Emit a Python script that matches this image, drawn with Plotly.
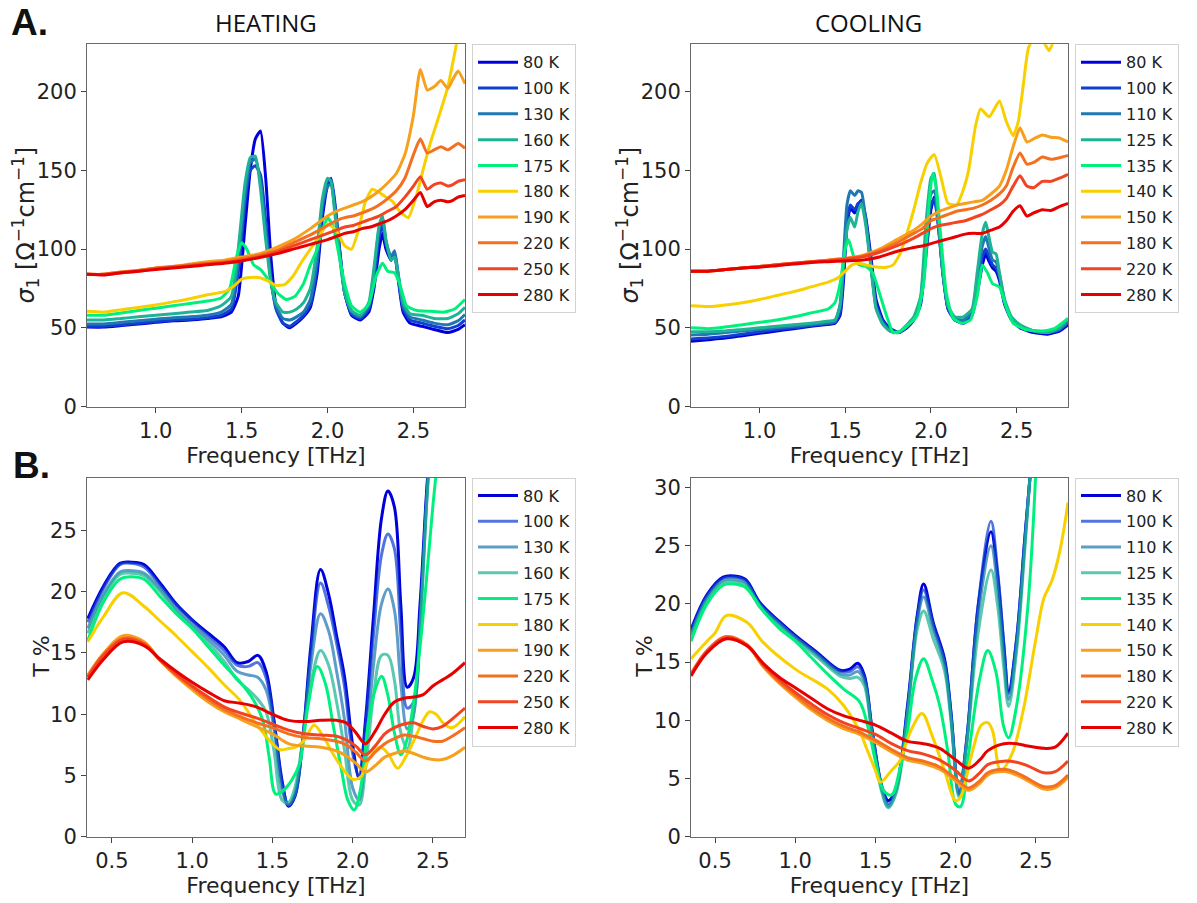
import plotly.graph_objects as go

W, H = 1197, 903

# ---------------- labels & colours ----------------
HEAT_LABELS = ["80 K", "100 K", "130 K", "160 K", "175 K", "180 K", "190 K", "220 K", "250 K", "280 K"]
COOL_LABELS = ["80 K", "100 K", "110 K", "125 K", "135 K", "140 K", "150 K", "180 K", "220 K", "280 K"]
COLORS = ["#0000dc", "#1040d2", "#1f78b4", "#1db394", "#00f07e",
          "#f8d000", "#f6a01e", "#f47020", "#f24420", "#e60000"]

# ---------------- sigma_1, heating ----------------
F_SH_LOW = [0.6, 0.7, 0.8, 0.9, 1.0, 1.1, 1.2, 1.3, 1.38, 1.44, 1.48, 1.52, 1.55, 1.58, 1.61,
            1.64, 1.67, 1.70, 1.74, 1.78, 1.82, 1.86, 1.90, 1.94, 1.97, 2.00, 2.02, 2.04, 2.07, 2.10,
            2.14, 2.19, 2.24, 2.27, 2.30, 2.32, 2.34, 2.37, 2.39, 2.41, 2.44, 2.48, 2.55, 2.62, 2.70,
            2.76, 2.80]
S_H_80 = [50.5, 50.5, 51.5, 52.5, 53.5, 54.5, 55, 56, 57, 60, 70, 115, 150, 170, 175,
          145, 95, 64, 53, 50, 53, 57, 63, 85, 120, 140, 143, 130, 100, 72,
          58, 55, 60, 75, 100, 110, 100, 93, 97, 82, 60, 53, 51, 49, 47, 49, 52]
S_H_100 = [51, 51, 52, 53, 54, 55, 55.5, 56.5, 58, 62, 85, 130, 150, 153, 147,
           118, 82, 62, 53, 51, 54, 58, 65, 90, 125, 142, 145, 132, 100, 72,
           59, 56, 62, 80, 108, 115, 103, 93, 98, 84, 62, 55, 53, 51, 49.5, 51.5, 55]
S_H_130 = [52.5, 52.5, 53.5, 54.5, 55.5, 56.5, 57, 58, 60, 65, 92, 135, 155, 157, 143,
           112, 80, 64, 56, 55, 57, 60, 68, 95, 128, 140, 141, 128, 98, 72,
           60, 57, 64, 85, 113, 120, 105, 95, 99, 85, 64, 57, 55, 53, 52, 54.5, 58.5]
S_H_160 = [55, 55, 56, 57, 58, 59, 60, 61, 64, 70, 100, 142, 158, 159, 138,
           106, 79, 66, 60, 60, 62, 66, 75, 102, 132, 145, 143, 125, 95, 72,
           61, 58, 66, 88, 115, 121, 106, 93, 95, 85, 66, 59, 58, 56, 56, 59, 63]
F_SH_175 = [0.6, 0.7, 0.8, 0.9, 1.0, 1.1, 1.2, 1.3, 1.38, 1.43, 1.47, 1.50, 1.53, 1.57, 1.61,
            1.66, 1.71, 1.76, 1.81, 1.86, 1.90, 1.94, 1.97, 2.00, 2.03, 2.06, 2.10, 2.14, 2.19, 2.24,
            2.28, 2.32, 2.35, 2.39, 2.42, 2.46, 2.52, 2.60, 2.68, 2.74, 2.80]
S_H_175 = [58, 58, 59.5, 61, 62.5, 64, 65.5, 67, 69, 75, 95, 104, 100, 90, 87,
           80, 72, 68, 70, 78, 90, 100, 112, 120, 115, 100, 78, 64, 60, 65,
           82, 91, 86, 85, 78, 64, 61, 60.5, 60, 62, 68]
F_SH_180 = [0.6, 0.7, 0.8, 0.9, 1.0, 1.1, 1.2, 1.3, 1.4, 1.46, 1.5, 1.55, 1.6, 1.65, 1.7,
            1.75, 1.8, 1.85, 1.9, 1.95, 2.0, 2.05, 2.1, 2.14, 2.18, 2.22, 2.26, 2.3, 2.34, 2.38,
            2.42, 2.47, 2.52, 2.56, 2.6, 2.65, 2.7, 2.75, 2.8]
S_H_180 = [60.5, 60, 61.5, 63, 64.5, 66.5, 68.5, 71, 73, 77, 81, 82, 82, 80, 77,
           77.5, 83, 92, 100, 108, 116, 112, 102, 100, 112, 130, 138, 136, 133, 130,
           124, 120, 135, 152, 168, 185, 203, 230, 255]
F_SH_HIGH = [0.6, 0.7, 0.8, 0.9, 1.0, 1.1, 1.2, 1.3, 1.4, 1.5, 1.6, 1.7, 1.8, 1.9, 2.0,
             2.05, 2.1, 2.15, 2.2, 2.25, 2.3, 2.35, 2.4, 2.45, 2.5, 2.54, 2.58, 2.62, 2.66, 2.70,
             2.73, 2.76, 2.80]
S_H_190 = [84, 84, 85.5, 86.5, 88, 89, 90.5, 92, 93, 95, 97, 101, 106, 113, 121,
           124, 126, 128, 130, 133, 137, 142, 148, 160, 185, 214, 201, 203, 207, 202, 208, 213, 205]
S_H_220 = [84, 84, 85.5, 86.5, 88, 89, 90, 91, 92, 94, 96, 99, 104, 109, 115,
           118, 120, 121, 123, 125, 128, 132, 137, 145, 160, 170, 161, 163, 165, 163, 165, 167, 164]
S_H_250 = [84, 84, 85, 86, 87.5, 88.5, 89.5, 90.5, 91.5, 93, 95, 98, 102, 106, 110,
           112, 114, 115, 117, 119, 121, 124, 127, 133, 140, 146, 138, 141, 142, 140, 141, 143, 144]
S_H_280 = [84, 83.5, 85, 86, 87, 88, 89, 90, 91, 92.5, 94.5, 97, 100, 103, 106,
           108, 110, 111, 113, 114, 116, 118, 121, 125, 131, 136, 127, 130, 131, 130, 131, 133, 134]

# ---------------- sigma_1, cooling ----------------
F_SC_LOW = [0.6, 0.7, 0.8, 0.9, 1.0, 1.1, 1.2, 1.3, 1.38, 1.44, 1.47, 1.49, 1.51, 1.53, 1.555,
            1.575, 1.595, 1.62, 1.65, 1.68, 1.72, 1.76, 1.81, 1.86, 1.90, 1.94, 1.97, 2.00, 2.02, 2.04,
            2.07, 2.10, 2.14, 2.19, 2.24, 2.27, 2.30, 2.32, 2.34, 2.36, 2.38, 2.40, 2.43, 2.47, 2.52,
            2.60, 2.68, 2.75, 2.80]
S_C_80 = [41.5, 42.5, 43.5, 45, 46.5, 48, 49.5, 51, 52, 53, 58, 80, 115, 126, 123,
          128, 131, 120, 95, 68, 55, 50, 47, 50, 55, 65, 95, 125, 133, 120,
          85, 62, 55, 53, 58, 72, 90, 97, 92, 88, 86, 80, 65, 55, 50, 47, 46, 48, 52]
S_C_100 = [43, 43.5, 44.5, 46, 47.5, 49, 50, 51.5, 52.5, 53.5, 60, 85, 118, 128, 125,
           129, 130, 118, 90, 65, 54, 49, 47, 51, 56, 67, 100, 128, 132, 118,
           84, 62, 55, 54, 59, 76, 95, 100, 95, 90, 88, 82, 66, 56, 51, 48, 47, 49, 53]
S_C_110 = [45.5, 46, 47, 48, 49, 50, 51, 52, 53, 54, 65, 95, 128, 137, 134,
           137, 136, 118, 90, 63, 53, 48, 47, 51, 56, 68, 105, 135, 137, 120,
           85, 63, 56, 55, 60, 80, 102, 108, 100, 93, 92, 84, 67, 56, 51, 48, 47, 49, 54]
S_C_125 = [47.5, 47.5, 48, 49, 50, 51, 52, 53, 54, 55, 64, 90, 112, 120, 114,
           124, 129, 115, 88, 62, 52, 48, 47, 52, 57, 70, 115, 145, 148, 125,
           86, 64, 57, 57, 62, 85, 110, 117, 107, 98, 97, 85, 68, 57, 52, 48, 47, 50, 56]
F_SC_135 = [0.6, 0.7, 0.8, 0.9, 1.0, 1.1, 1.2, 1.3, 1.4, 1.44, 1.47, 1.50, 1.52, 1.55, 1.58,
            1.62, 1.66, 1.70, 1.74, 1.78, 1.82, 1.87, 1.92, 1.96, 1.99, 2.01, 2.03, 2.06, 2.09, 2.13,
            2.18, 2.23, 2.27, 2.30, 2.33, 2.36, 2.40, 2.44, 2.48, 2.55, 2.65, 2.72, 2.80]
S_C_135 = [50, 49.5, 50.5, 52, 53.5, 55, 57, 59.5, 62, 66, 78, 100, 106, 95, 90,
           89, 85, 72, 58, 47, 48, 52, 58, 80, 130, 148, 140, 105, 72, 56,
           53, 55, 70, 90, 85, 78, 76, 63, 53, 49, 48, 49.5, 56]
F_SC_140 = [0.6, 0.7, 0.8, 0.9, 1.0, 1.1, 1.2, 1.3, 1.4, 1.46, 1.5, 1.54, 1.58, 1.62, 1.66,
            1.7, 1.74, 1.78, 1.82, 1.86, 1.9, 1.94, 1.98, 2.02, 2.06, 2.1, 2.15, 2.19, 2.22, 2.26,
            2.29, 2.34, 2.40, 2.44, 2.48, 2.51, 2.54, 2.57, 2.62, 2.66, 2.69, 2.73, 2.8]
S_C_140 = [64, 63.5, 64.5, 66, 68, 70.5, 73, 76, 79, 82, 86, 90, 91, 90, 89,
           88.5, 88.5, 90, 97, 110, 125, 142, 155, 160, 145, 129, 128, 138, 150, 178,
           189, 184, 194, 181, 172, 181, 205, 228, 236, 231, 226, 236, 255]
F_SC_HIGH = [0.6, 0.7, 0.8, 0.9, 1.0, 1.1, 1.2, 1.3, 1.4, 1.5, 1.6, 1.7, 1.8, 1.9, 1.95,
             2.0, 2.05, 2.1, 2.15, 2.2, 2.25, 2.3, 2.35, 2.4, 2.44, 2.48, 2.52, 2.56, 2.6, 2.65,
             2.7, 2.75, 2.8]
S_C_150 = [86, 86, 87, 88, 89, 90, 91, 92, 93, 94, 96, 100, 106, 112, 116,
           121, 124, 126, 128, 129, 130, 131, 135, 140, 150, 165, 177, 168, 170, 172.5, 171, 170.5, 168]
S_C_180 = [86, 86, 87, 88, 89, 90, 91, 92, 93, 94, 95.5, 99, 104, 110, 113,
           118, 120, 122, 124, 125, 126, 128, 131, 135, 140, 152, 161, 154, 155, 158.5, 157, 158, 159.5]
S_C_220 = [86, 86, 87, 88, 89, 90, 91, 92, 92.5, 93.5, 95, 98, 102, 107, 110,
           113, 115, 116, 117, 118, 120, 122, 125, 128, 132, 140, 146.5, 140, 139, 143, 143, 145, 147.5]
S_C_280 = [86, 86, 87, 88, 88.5, 89.5, 90.5, 91.5, 92, 92.5, 93, 95, 98.5, 101, 102,
           103.5, 105, 106.5, 108, 109.5, 110, 110, 112, 114, 118, 124, 127.5, 121, 123, 125, 124.5, 127, 129]

# ---------------- transmission, heating ----------------
F_TH_LOW = [0.35, 0.45, 0.55, 0.62, 0.7, 0.8, 0.9, 1.0, 1.1, 1.2, 1.28, 1.35, 1.41, 1.46, 1.51,
            1.56, 1.60, 1.64, 1.69, 1.74, 1.80, 1.85, 1.90, 1.95, 2.00, 2.04, 2.08, 2.13, 2.18, 2.22,
            2.26, 2.30, 2.34, 2.38, 2.42, 2.46, 2.50]
T_H_80 = [17.8, 20.5, 22.3, 22.4, 22.2, 20.7, 19.0, 17.7, 16.6, 15.5, 14.2, 14.3, 14.8, 13.5, 9.5,
          4.6, 2.5, 3.3, 8.1, 15.6, 21.8, 19.8, 16.4, 13.0, 7.5, 4.8, 9.5, 18.0, 26.0, 28.2,
          26.9, 18.9, 12.2, 13.0, 19.0, 28.0, 35]
T_H_100 = [17.5, 20.3, 22.2, 22.3, 22.0, 20.5, 18.9, 17.6, 16.4, 15.2, 14.0, 13.9, 14.2, 13.0, 9.3,
           4.4, 2.6, 3.3, 8.0, 15.0, 20.7, 18.8, 15.8, 12.2, 6.8, 5.0, 9.0, 16.5, 23.0, 24.7,
           23.5, 16.5, 10.5, 11.0, 18.0, 27.5, 35]
T_H_130 = [17.0, 19.8, 21.6, 21.7, 21.5, 20.2, 18.6, 17.3, 16.1, 14.8, 13.5, 13.2, 13.0, 12.0, 8.8,
           3.8, 2.6, 3.5, 8.0, 14.0, 18.2, 16.8, 13.5, 9.5, 4.0, 3.0, 7.0, 14.0, 19.0, 20.2,
           18.5, 12.5, 8.8, 10.0, 17.0, 27.0, 35]
T_H_160 = [16.6, 19.6, 21.4, 21.5, 21.3, 20.0, 18.4, 17.1, 15.8, 14.3, 12.8, 12.0, 11.2, 10.2, 7.0,
           3.0, 2.8, 4.0, 8.0, 12.5, 15.2, 14.0, 11.0, 7.0, 3.0, 2.6, 5.5, 11.5, 14.8, 14.8,
           12.8, 8.5, 7.2, 10.0, 17.0, 27.0, 35]
F_TH_175 = [0.35, 0.45, 0.55, 0.62, 0.7, 0.8, 0.9, 1.0, 1.1, 1.2, 1.3, 1.38, 1.44, 1.48, 1.52,
            1.56, 1.62, 1.67, 1.72, 1.78, 1.83, 1.88, 1.93, 1.97, 2.01, 2.05, 2.10, 2.14, 2.18, 2.22,
            2.26, 2.30, 2.34, 2.38, 2.42, 2.46, 2.50, 2.54]
T_H_175 = [16.0, 19.2, 21.0, 21.2, 21.0, 19.6, 18.2, 17.0, 15.5, 14.0, 12.6, 11.2, 9.5, 6.5, 3.5,
           3.7, 4.6, 6.0, 10.5, 13.9, 12.5, 9.0, 5.5, 3.0, 2.2, 4.0, 9.5, 12.0, 13.1, 11.5,
           8.5, 6.7, 8.0, 11.0, 15.5, 21.0, 27.0, 32.0]
F_TH_180 = [0.35, 0.45, 0.57, 0.7, 0.8, 0.9, 1.0, 1.1, 1.2, 1.3, 1.4, 1.5, 1.55, 1.6, 1.65,
            1.7, 1.76, 1.82, 1.9, 2.0, 2.05, 2.1, 2.17, 2.22, 2.28, 2.33, 2.4, 2.44, 2.48, 2.52,
            2.57, 2.62, 2.7]
T_H_180 = [15.9, 18.0, 19.9, 18.8, 17.6, 16.4, 15.1, 13.8, 12.4, 11.1, 9.2, 7.6, 7.1, 7.2, 7.35,
           7.9, 9.1, 8.1, 6.3, 4.7, 4.9, 6.3, 7.3, 6.8, 5.6, 6.5, 8.4, 9.5, 10.2, 10.0,
           9.2, 8.9, 9.8]
F_TH_HIGH = [0.35, 0.45, 0.57, 0.7, 0.8, 0.9, 1.0, 1.1, 1.2, 1.3, 1.4, 1.5, 1.6, 1.7, 1.8,
             1.9, 1.96, 2.02, 2.08, 2.14, 2.2, 2.26, 2.32, 2.38, 2.44, 2.5, 2.56, 2.62, 2.7]
T_H_190 = [13.2, 15.0, 16.4, 15.9, 14.4, 13.1, 12.0, 11.0, 10.2, 9.6, 9.0, 8.4, 7.6, 7.4, 7.3,
           7.0, 6.6, 6.0, 5.3, 5.8, 6.5, 6.8, 7.0, 6.8, 6.5, 6.3, 6.3, 6.6, 7.3]
T_H_220 = [13.1, 14.9, 16.2, 15.8, 14.4, 13.2, 12.2, 11.2, 10.4, 9.8, 9.3, 8.9, 8.4, 8.1, 8.0,
           7.8, 7.5, 6.9, 6.2, 6.9, 7.6, 8.0, 8.3, 8.2, 8.0, 7.8, 7.8, 8.2, 8.9]
T_H_250 = [13.0, 14.8, 16.1, 15.7, 14.4, 13.3, 12.3, 11.4, 10.6, 10.1, 9.7, 9.2, 8.7, 8.4, 8.3,
           8.2, 7.9, 7.4, 6.7, 7.4, 8.4, 8.9, 9.2, 9.3, 9.0, 8.8, 9.0, 9.6, 10.5]
T_H_280 = [12.8, 14.5, 15.9, 15.6, 14.5, 13.5, 12.6, 11.8, 11.1, 10.9, 10.6, 10.0, 9.5, 9.4, 9.5,
           9.5, 9.3, 8.5, 7.6, 8.6, 10.0, 11.0, 11.3, 11.4, 11.6, 12.3, 12.8, 13.3, 14.2]

# ---------------- transmission, cooling ----------------
F_TC_LOW = [0.35, 0.45, 0.55, 0.62, 0.69, 0.78, 0.9, 1.0, 1.13, 1.28, 1.34, 1.39, 1.43, 1.48, 1.54,
            1.58, 1.63, 1.70, 1.76, 1.80, 1.86, 1.93, 1.97, 2.02, 2.07, 2.14, 2.22, 2.26, 2.30, 2.33,
            2.38, 2.43, 2.47, 2.5]
T_C_80 = [17.8, 20.8, 22.3, 22.4, 22.1, 20.1, 18.5, 17.3, 15.9, 14.3, 14.4, 14.9, 13.9, 9.1, 4.3,
          3.1, 4.3, 11.3, 19.0, 21.7, 18.4, 15.3, 10.8, 3.7, 8.5, 19.8, 26.2, 22.6, 16.4, 12.5,
          17.0, 25.5, 32, 36]
T_C_100 = [17.6, 20.7, 22.2, 22.3, 22.0, 20.0, 18.4, 17.2, 15.8, 14.2, 14.2, 14.6, 13.7, 9.0, 4.2,
           2.8, 4.2, 11.0, 18.8, 21.2, 18.2, 15.1, 10.6, 3.8, 8.5, 19.9, 27.1, 23.0, 16.6, 12.3,
           17.0, 25.5, 32, 36]
T_C_110 = [17.4, 20.5, 22.0, 22.1, 21.8, 19.9, 18.3, 17.1, 15.7, 14.0, 13.9, 14.2, 13.4, 8.8, 4.0,
           2.6, 4.0, 10.8, 18.5, 20.6, 17.8, 14.8, 10.4, 3.6, 8.3, 19.0, 25.0, 21.5, 15.5, 11.8,
           16.5, 25.0, 32, 36]
T_C_125 = [17.2, 20.3, 21.8, 21.9, 21.6, 19.7, 18.1, 16.9, 15.5, 13.8, 13.6, 13.7, 13.0, 8.5, 3.8,
           2.5, 3.8, 10.5, 17.8, 19.4, 17.0, 14.3, 10.0, 3.4, 8.0, 17.5, 22.9, 20.0, 14.5, 11.2,
           16.0, 24.5, 32, 36]
F_TC_135 = [0.35, 0.45, 0.55, 0.62, 0.69, 0.8, 0.9, 1.0, 1.1, 1.2, 1.3, 1.4, 1.45, 1.5, 1.55,
            1.6, 1.65, 1.7, 1.75, 1.8, 1.85, 1.9, 1.95, 2.0, 2.03, 2.08, 2.15, 2.2, 2.25, 2.3,
            2.33, 2.38, 2.45, 2.5]
T_C_135 = [16.8, 20.0, 21.6, 21.7, 21.4, 19.4, 17.9, 16.8, 15.4, 14.0, 12.7, 11.6, 9.6, 6.5, 4.0,
           3.6, 5.7, 9.1, 13.6, 15.3, 13.6, 11.3, 7.4, 2.8, 2.6, 7.1, 13.6, 16.0, 14.2, 9.4,
           8.5, 11.3, 19.8, 31.5]
F_TC_140 = [0.35, 0.45, 0.5, 0.57, 0.7, 0.8, 1.0, 1.2, 1.3, 1.4, 1.45, 1.5, 1.53, 1.6, 1.65,
            1.72, 1.79, 1.85, 1.93, 2.0, 2.03, 2.1, 2.16, 2.2, 2.23, 2.28, 2.35, 2.42, 2.5, 2.55,
            2.6, 2.65, 2.7]
T_C_140 = [15.3, 16.8, 17.5, 19.0, 18.4, 16.7, 14.4, 12.7, 11.3, 9.1, 7.4, 5.7, 4.7, 5.7, 6.5,
           9.1, 10.6, 8.8, 5.7, 3.1, 3.4, 7.1, 9.6, 9.8, 9.1, 5.7, 7.1, 10.8, 17.0, 20.5,
           22.0, 24.6, 28.7]
F_TC_HIGH = [0.35, 0.45, 0.57, 0.7, 0.8, 0.9, 1.0, 1.1, 1.2, 1.3, 1.4, 1.5, 1.6, 1.7, 1.8,
             1.9, 2.0, 2.08, 2.15, 2.2, 2.3, 2.38, 2.45, 2.55, 2.62, 2.7]
T_C_150 = [13.9, 15.9, 17.1, 16.4, 14.6, 13.2, 12.0, 10.9, 10.0, 9.3, 8.8, 8.1, 7.3, 6.6, 6.3,
           5.8, 4.8, 4.0, 4.6, 5.3, 5.6, 5.3, 4.8, 4.1, 4.2, 5.1]
T_C_180 = [14.0, 16.0, 17.2, 16.5, 14.7, 13.3, 12.2, 11.1, 10.2, 9.5, 9.0, 8.3, 7.5, 6.8, 6.5,
           6.0, 5.0, 4.2, 4.8, 5.5, 5.8, 5.5, 5.0, 4.3, 4.4, 5.3]
T_C_220 = [13.9, 15.9, 17.1, 16.4, 14.8, 13.5, 12.4, 11.4, 10.5, 9.8, 9.3, 8.8, 8.0, 7.4, 7.1,
           6.6, 5.7, 4.8, 5.5, 6.2, 6.5, 6.4, 6.1, 5.5, 5.6, 6.5]
T_C_280 = [13.8, 15.8, 17.0, 16.4, 14.9, 13.7, 12.8, 11.9, 11.0, 10.4, 10.0, 9.6, 8.9, 8.2, 8.0,
           7.6, 6.6, 5.9, 6.6, 7.4, 8.0, 8.0, 7.8, 7.6, 7.7, 8.9]

# ---------------- assemble panels ----------------
sigma_heat = [(F_SH_LOW, S_H_80), (F_SH_LOW, S_H_100), (F_SH_LOW, S_H_130), (F_SH_LOW, S_H_160),
              (F_SH_175, S_H_175), (F_SH_180, S_H_180), (F_SH_HIGH, S_H_190), (F_SH_HIGH, S_H_220),
              (F_SH_HIGH, S_H_250), (F_SH_HIGH, S_H_280)]
sigma_cool = [(F_SC_LOW, S_C_80), (F_SC_LOW, S_C_100), (F_SC_LOW, S_C_110), (F_SC_LOW, S_C_125),
              (F_SC_135, S_C_135), (F_SC_140, S_C_140), (F_SC_HIGH, S_C_150), (F_SC_HIGH, S_C_180),
              (F_SC_HIGH, S_C_220), (F_SC_HIGH, S_C_280)]
trans_heat = [(F_TH_LOW, T_H_80), (F_TH_LOW, T_H_100), (F_TH_LOW, T_H_130), (F_TH_LOW, T_H_160),
              (F_TH_175, T_H_175), (F_TH_180, T_H_180), (F_TH_HIGH, T_H_190), (F_TH_HIGH, T_H_220),
              (F_TH_HIGH, T_H_250), (F_TH_HIGH, T_H_280)]
trans_cool = [(F_TC_LOW, T_C_80), (F_TC_LOW, T_C_100), (F_TC_LOW, T_C_110), (F_TC_LOW, T_C_125),
              (F_TC_135, T_C_135), (F_TC_140, T_C_140), (F_TC_HIGH, T_C_150), (F_TC_HIGH, T_C_180),
              (F_TC_HIGH, T_C_220), (F_TC_HIGH, T_C_280)]

panels = [
    dict(curves=sigma_heat, labels=HEAT_LABELS, xa="x", ya="y", leg="legend", smooth=0.5, faded=False),
    dict(curves=sigma_cool, labels=COOL_LABELS, xa="x2", ya="y2", leg="legend2", smooth=0.5, faded=False),
    dict(curves=trans_heat, labels=HEAT_LABELS, xa="x3", ya="y3", leg="legend3", smooth=1.0, faded=True),
    dict(curves=trans_cool, labels=COOL_LABELS, xa="x4", ya="y4", leg="legend4", smooth=1.0, faded=True),
]

fig = go.Figure()
for p_i, p in enumerate(panels):
    for i, ((fx, fy), lab) in enumerate(zip(p["curves"], p["labels"])):
        op = 0.72 if (p["faded"] and i in (1, 2, 3)) else 1.0
        fig.add_trace(go.Scatter(
            x=fx, y=fy, mode="lines", name=lab,
            line=dict(color=COLORS[i], width=3, shape="spline", smoothing=p["smooth"]),
            opacity=op, xaxis=p["xa"], yaxis=p["ya"], legend=p["leg"],
            legendgroup=f"p{p_i}_{i}", hoverinfo="skip",
        ))

def fx_(px):
    return px / W

def fy_(py):
    return 1 - py / H

TICKFONT = dict(family="DejaVu Sans", size=21, color="#222")
LABEL_FONT = dict(family="DejaVu Sans", size=22, color="#222")
axis_common = dict(showline=True, mirror=True, linecolor="#6a6a6a", linewidth=1,
                   ticks="outside", ticklen=5, tickwidth=1, tickcolor="#444",
                   showgrid=False, zeroline=False, tickfont=TICKFONT)
FREQ_TITLE = dict(text="Frequency [THz]", font=LABEL_FONT, standoff=0)

XL, XR = fx_(87), fx_(465)
XL2, XR2 = fx_(691), fx_(1068)
YT_A, YB_A = fy_(43), fy_(411)
YT_B, YB_B = fy_(483), fy_(848)

fig.update_layout(
    width=W, height=H, margin=dict(l=0, r=0, t=0, b=0),
    paper_bgcolor="white", plot_bgcolor="white",
    xaxis=dict(domain=[XL, XR], anchor="y", range=[0.6, 2.8], dtick=0.5, tick0=0, tickformat=".1f",
               title=FREQ_TITLE, **axis_common),
    yaxis=dict(domain=[YB_A, YT_A], anchor="x", range=[0, 230], dtick=50, **axis_common),
    xaxis2=dict(domain=[XL2, XR2], anchor="y2", range=[0.6, 2.8], dtick=0.5, tick0=0, tickformat=".1f",
                title=FREQ_TITLE, **axis_common),
    yaxis2=dict(domain=[YB_A, YT_A], anchor="x2", range=[0, 230], dtick=50, **axis_common),
    xaxis3=dict(domain=[XL, XR], anchor="y3", range=[0.345, 2.7], dtick=0.5, tick0=0, tickformat=".1f",
                title=FREQ_TITLE, **axis_common),
    yaxis3=dict(domain=[YB_B, YT_B], anchor="x3", range=[0, 29.3], dtick=5, **axis_common),
    xaxis4=dict(domain=[XL2, XR2], anchor="y4", range=[0.35, 2.7], dtick=0.5, tick0=0, tickformat=".1f",
                title=FREQ_TITLE, **axis_common),
    yaxis4=dict(domain=[YB_B, YT_B], anchor="x4", range=[0, 30.85], dtick=5, **axis_common),
    showlegend=True,
)

leg_common = dict(bgcolor="white", bordercolor="#d2d2d2", borderwidth=1,
                  font=dict(family="DejaVu Sans", size=16, color="#222"),
                  xanchor="left", yanchor="top", tracegroupgap=2, itemwidth=40)
fig.update_layout(
    legend=dict(x=fx_(472), y=fy_(43), **leg_common),
    legend2=dict(x=fx_(1075), y=fy_(43), **leg_common),
    legend3=dict(x=fx_(472), y=fy_(483), **leg_common),
    legend4=dict(x=fx_(1075), y=fy_(483), **leg_common),
)

SIG_FONT = dict(family="DejaVu Sans", size=24, color="#222")
ann = []
def add_text(text, px, py, font, angle=0, xanchor="center"):
    ann.append(dict(text=text, x=fx_(px), y=fy_(py), xref="paper", yref="paper",
                    showarrow=False, font=font, textangle=angle,
                    xanchor=xanchor, yanchor="middle"))

add_text("<b>A.</b>", 9, 21, dict(family="Liberation Sans", size=37, color="#111"), xanchor="left")
add_text("<b>B.</b>", 11, 471, dict(family="Liberation Sans", size=37, color="#111"), xanchor="left")
add_text("HEATING", 266, 21, dict(family="Open Sans", size=24, color="#111"))
add_text("COOLING", 868, 21, dict(family="Open Sans", size=24, color="#111"))
SIG = "<i>σ</i><sub>1</sub> [Ω<sup>−1</sup>cm<sup>−1</sup>]"
add_text(SIG, 25, 227, SIG_FONT, angle=-90)
add_text(SIG, 629, 227, SIG_FONT, angle=-90)
add_text("T %", 42, 665, LABEL_FONT, angle=-90)
add_text("T %", 645, 665, LABEL_FONT, angle=-90)
fig.update_layout(annotations=ann)

fig.write_html("out.html")
